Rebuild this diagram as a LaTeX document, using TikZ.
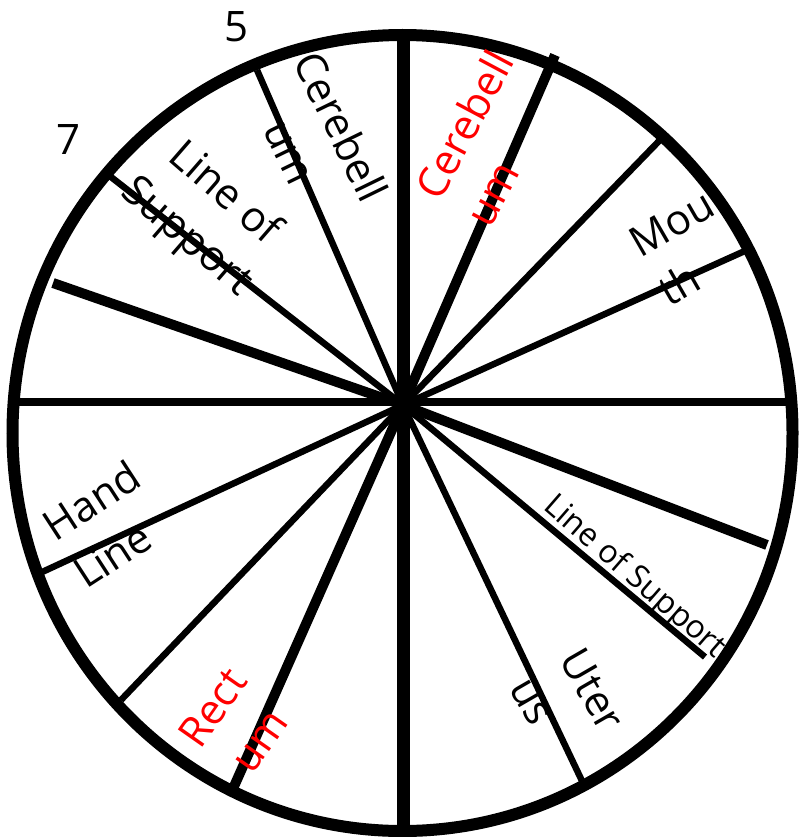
\documentclass[tikz,border=0pt]{standalone}
\usepackage{fontspec}
\setmainfont{Open Sans}
\begin{document}
\begin{tikzpicture}[x=1pt,y=-1pt,
  rim/.style={line width=12pt},
  spoke/.style={line width=6.5pt},
  bigspoke/.style={line width=10pt},
  lbl/.style={font=\fontsize{42}{57}\selectfont, inner sep=0pt},
  redlbl/.style={lbl, text=red}]
\useasboundingbox (0,0) rectangle (798,837);
\draw[rim] (402.5,433) ellipse [x radius=390, y radius=398];
\coordinate (hub) at (403,405);
\coordinate (top) at (403,35);
\coordinate (bottom) at (403,832);
\coordinate (left) at (13,402);
\coordinate (right) at (792,402);
\coordinate (ul1) at (257,70);
\coordinate (ul2) at (111,177);
\coordinate (ul3) at (53,283);
\coordinate (ur1) at (555,55);
\coordinate (ur2) at (660,140);
\coordinate (ur3) at (747,250);
\coordinate (lr1) at (767,545);
\coordinate (lr2) at (705,657);
\coordinate (lr3) at (583,783);
\coordinate (ll1) at (40,573);
\coordinate (ll2) at (121,700);
\coordinate (ll3) at (232,791);
\draw[line width=13pt] (top) -- (bottom);
\draw[line width=8.5pt] (left) -- (right);
\draw[spoke] (hub) -- (ul1);
\draw[spoke] (hub) -- (ul2);
\draw[bigspoke] (hub) -- (ul3);
\draw[bigspoke] (hub) -- (ur1);
\draw[spoke] (hub) -- (ur2);
\draw[spoke] (hub) -- (ur3);
\draw[bigspoke] (hub) -- (lr1);
\draw[spoke] (hub) -- (lr2);
\draw[spoke] (hub) -- (lr3);
\draw[spoke] (hub) -- (ll1);
\draw[spoke] (hub) -- (ll2);
\draw[bigspoke] (hub) -- (ll3);
\fill (hub) circle (8);
% labels
\node[lbl] (five) at (237,27) {5};
\node[lbl] (seven) at (69,140) {7};
\node[lbl, align=center, rotate=-64] (cereb) at (316,139) {Cerebell\\um};
\node[lbl, align=center, rotate=-41] (support) at (205,216) {Line of\\Support};
\node[redlbl, align=left, rotate=62] (redcereb) at (489,138) {Cerebell\\um};
\node[lbl, align=left, rotate=30] (mouth) at (686,248) {Mou\\th};
\node[lbl, align=left, rotate=33] (hand) at (107,524) {Hand\\Line};
\node[lbl, font=\fontsize{32}{40}\selectfont, rotate=-41] (support2) at (634,577) {Line of Support};
\node[lbl, align=left, rotate=-60] (uterus) at (568,704) {Uter\\us};
\node[redlbl, align=center, rotate=55] (rectum) at (236,724) {Rect\\um};
\end{tikzpicture}
\end{document}
